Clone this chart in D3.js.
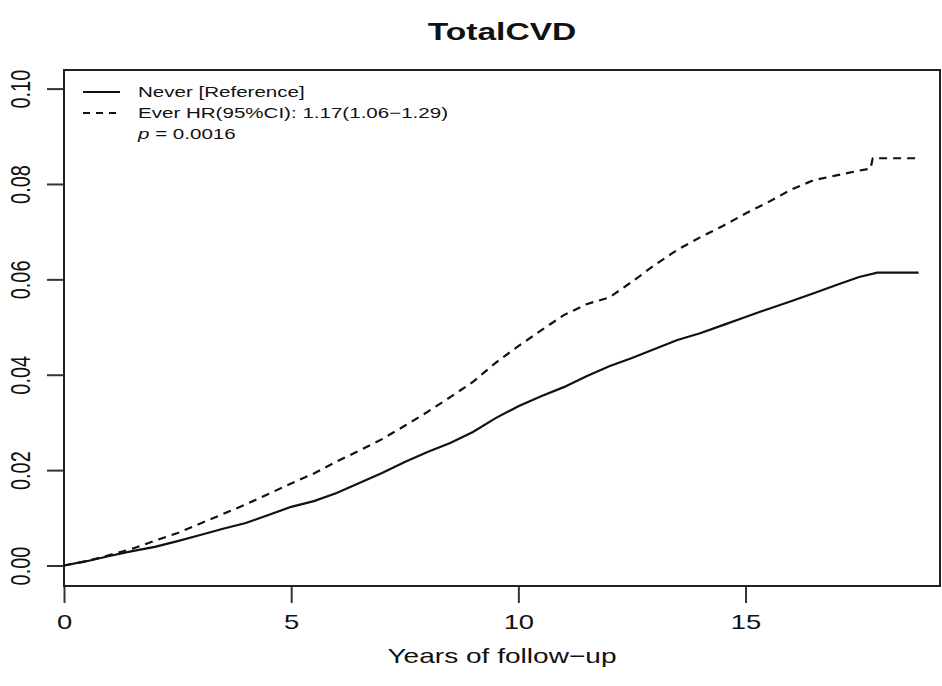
<!DOCTYPE html>
<html>
<head>
<meta charset="utf-8">
<script src="https://cdn.jsdelivr.net/npm/d3@7"></script>
<style>
  html, body { margin: 0; padding: 0; background: #fff; }
  svg text { font-family: "Liberation Sans", Arial, sans-serif; fill: #111; }
</style>
</head>
<body>
<div id="chart"></div>
<script>
// cumulative incidence (years, risk)
const neverYears = [0, 0.5, 1, 1.5, 2, 2.5, 3, 3.5, 4, 4.5, 5, 5.5, 6, 6.5, 7, 7.5, 8, 8.5, 9, 9.5,
  10, 10.5, 11, 11.5, 12, 12.5, 13, 13.5, 14, 14.5, 15, 15.5, 16, 16.5, 17, 17.5, 17.9, 18.81];
const neverRisk = [0, 0.0009, 0.002, 0.003, 0.0039, 0.0051, 0.0064, 0.0077, 0.0089, 0.0106, 0.0123,
  0.0135, 0.0152, 0.0173, 0.0194, 0.0217, 0.0238, 0.0257, 0.028, 0.0309, 0.0334, 0.0355, 0.0374,
  0.0397, 0.0418, 0.0435, 0.0454, 0.0473, 0.0487, 0.0504, 0.0521, 0.0538, 0.0554, 0.0571, 0.0588,
  0.0605, 0.0614, 0.0614];

const everYears = [0, 0.5, 1, 1.5, 2, 2.5, 3, 3.5, 4, 4.5, 5, 5.5, 6, 6.5, 7, 7.5, 8, 8.5, 9, 9.5,
  10, 10.5, 11, 11.5, 12, 12.5, 13, 13.5, 14, 14.5, 15, 15.5, 16, 16.5, 17, 17.5, 17.75, 17.8, 18.81];
const everRisk = [0, 0.0009, 0.0022, 0.0035, 0.0052, 0.0068, 0.0088, 0.0108, 0.0128, 0.015, 0.0172,
  0.0193, 0.0218, 0.0241, 0.0265, 0.0293, 0.0322, 0.0353, 0.0385, 0.0425, 0.046, 0.0493, 0.0525,
  0.0548, 0.0562, 0.0595, 0.063, 0.0662, 0.0688, 0.0712, 0.0738, 0.0762, 0.0788, 0.0808, 0.0818,
  0.0828, 0.0832, 0.0854, 0.0854];

const xTicks = [0, 5, 10, 15];
const yTicks = [0, 0.02, 0.04, 0.06, 0.08, 0.1];

const legendLabels = ['Never [Reference]', 'Ever HR(95%CI): 1.17(1.06\u22121.29)'];
const pValueText = ' = 0.0016';

const chartTitle = 'TotalCVD';
const xTitle = 'Years of follow\u2212up';

// the reference is stretched sideways, so all text gets the same x-scale
const SX = 1.37;

const W = 942, H = 686;
const box = { left: 64, top: 70, right: 940, bottom: 586 };

const svg = d3.select('#chart')
  .append('svg')
  .attr('width', W)
  .attr('height', H);

svg.append('rect').attr('width', W).attr('height', H).attr('fill', '#fff');

const x = d3.scaleLinear()
  .domain([0, 19.28])
  .range([box.left, box.right]);

const y = d3.scaleLinear()
  .domain([-0.0043, 0.1039])
  .range([box.bottom, box.top]);

// x axis
const xAxis = svg.append('g')
  .attr('transform', `translate(0,${box.bottom})`)
  .call(d3.axisBottom(x).tickValues(xTicks).tickSize(17).tickFormat(d3.format('d')));
xAxis.select('.domain').remove();
xAxis.selectAll('line').attr('stroke', '#333').attr('stroke-width', 2);
xAxis.selectAll('text')
  .attr('y', null).attr('dy', null)
  .attr('transform', `translate(0,43) scale(${SX},1)`)
  .attr('font-size', 20)
  .attr('fill', '#111');

// y axis
const yAxis = svg.append('g')
  .attr('transform', `translate(${box.left},0)`)
  .call(d3.axisLeft(y).tickValues(yTicks).tickSize(17).tickFormat(d3.format('.2f')));
yAxis.select('.domain').remove();
yAxis.selectAll('line').attr('stroke', '#333').attr('stroke-width', 2);
yAxis.selectAll('text')
  .attr('x', null).attr('dy', null)
  .attr('text-anchor', 'middle')
  .attr('transform', `translate(-34,0) scale(${SX},1) rotate(-90)`)
  .attr('font-size', 20)
  .attr('fill', '#111');

// plot frame
svg.append('rect')
  .attr('x', box.left)
  .attr('y', box.top)
  .attr('width', box.right - box.left)
  .attr('height', box.bottom - box.top)
  .attr('fill', 'none')
  .attr('stroke', '#222')
  .attr('stroke-width', 2);

// curves (fine KM steps in the reference read as a near-smooth line)
const line = d3.line()
  .x(d => x(d[0]))
  .y(d => y(d[1]));

svg.append('path')
  .datum(d3.zip(neverYears, neverRisk))
  .attr('d', line)
  .attr('fill', 'none')
  .attr('stroke', '#111')
  .attr('stroke-width', 2.2);

svg.append('path')
  .datum(d3.zip(everYears, everRisk))
  .attr('d', line)
  .attr('fill', 'none')
  .attr('stroke', '#111')
  .attr('stroke-width', 2.2)
  .attr('stroke-dasharray', '8,6');

// legend
const legend = svg.append('g');
const legendRows = [92, 113];
legendLabels.forEach((label, i) => {
  legend.append('line')
    .attr('x1', 83).attr('x2', 120)
    .attr('y1', legendRows[i]).attr('y2', legendRows[i])
    .attr('stroke', '#111')
    .attr('stroke-width', 1.8)
    .attr('stroke-dasharray', i === 1 ? '7,6' : null);
  legend.append('text')
    .attr('transform', `translate(138,${legendRows[i] + 5}) scale(${SX},1)`)
    .attr('font-size', 15)
    .text(label);
});
const pText = legend.append('text')
  .attr('transform', `translate(138,${134 + 5}) scale(${SX},1)`)
  .attr('font-size', 15);
pText.append('tspan').attr('font-style', 'italic').text('p');
pText.append('tspan').text(pValueText);

// titles
svg.append('text')
  .attr('transform', `translate(${(box.left + box.right) / 2},40) scale(${SX},1)`)
  .attr('text-anchor', 'middle')
  .attr('font-size', 24.5)
  .attr('font-weight', 'bold')
  .text(chartTitle);

svg.append('text')
  .attr('transform', `translate(${(box.left + box.right) / 2},663) scale(${SX},1)`)
  .attr('text-anchor', 'middle')
  .attr('font-size', 20.5)
  .text(xTitle);
</script>
</body>
</html>
